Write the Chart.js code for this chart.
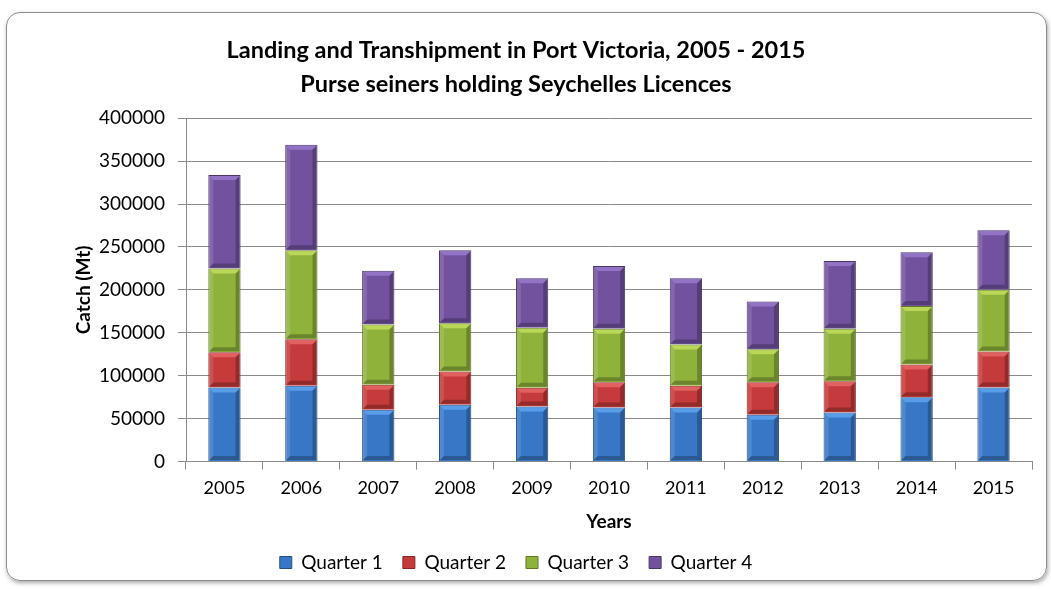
<!DOCTYPE html>
<html>
<head>
<meta charset="utf-8">
<script src="https://cdn.jsdelivr.net/npm/chart.js@4/dist/chart.umd.min.js"></script>
<style>
  body { margin: 0; background: #fff; }
  #frame {
    position: absolute; left: 6px; top: 12px; width: 1039px; height: 567px;
    border: 1px solid #8c8c8c; border-radius: 14px;
    box-shadow: 1px 2px 4px rgba(0,0,0,0.35);
  }
  #chart { position: absolute; left: 0; top: 0; }
</style>
</head>
<body>
<div id="frame"></div>
<canvas id="chart" width="1051" height="589"></canvas>
<script>
const years = ["2005", "2006", "2007", "2008", "2009", "2010", "2011", "2012", "2013", "2014", "2015"];
const quarter1 = [86400, 88400, 60400, 66200, 64300, 63100, 63100, 54600, 57200, 74800, 86400];
const quarter2 = [40900, 54100, 29200, 38600, 21800, 29200, 25300, 37700, 36300, 38200, 41800];
const quarter3 = [97500, 103600, 70100, 56400, 69700, 62400, 47900, 38500, 61200, 68100, 72000];
const quarter4 = [109000, 123000, 62700, 84900, 57600, 73100, 77100, 55800, 78900, 62700, 69300];
const titleLines = ["Landing and Transhipment in Port Victoria, 2005 - 2015", "Purse seiners holding Seychelles Licences"];

const font = "Lato";
const gridColor = "#8a8a8a";
const fills = ["#3877c6", "#c53a3a", "#8fb23b", "#72529f"];
const lights = ["#5fa6f0", "#e86a6a", "#c4e060", "#9a7cd0"];
const borders = ["#244f86", "#862626", "#5f7826", "#4a356a"];

// bevel look of the old Excel bars, drawn on top of each bar element
const bevel = {
  id: "bevel",
  afterDatasetsDraw(ch) {
    const c = ch.ctx;
    ch.data.datasets.forEach((ds, i) => {
      ch.getDatasetMeta(i).data.forEach((bar) => {
        const l = bar.x - bar.width / 2, r = bar.x + bar.width / 2;
        const t = bar.y, b = bar.base, d = 5;
        c.save();
        c.fillStyle = lights[i];
        c.globalAlpha = 0.8;
        c.beginPath();
        c.moveTo(l + 1, t + 1); c.lineTo(r - 1, t + 1); c.lineTo(r - d, t + d); c.lineTo(l + d, t + d);
        c.closePath(); c.fill();
        c.globalAlpha = 0.25;
        c.fillStyle = "#000";
        c.beginPath();
        c.moveTo(r - 1, t + 1); c.lineTo(r - 1, b - 1); c.lineTo(r - d, b - d); c.lineTo(r - d, t + d);
        c.closePath(); c.fill();
        c.beginPath();
        c.moveTo(l + 1, b - 1); c.lineTo(r - 1, b - 1); c.lineTo(r - d, b - d); c.lineTo(l + d, b - d);
        c.closePath(); c.fill();
        c.globalAlpha = 0.12;
        c.fillStyle = "#fff";
        c.beginPath();
        c.moveTo(l + 1, t + 1); c.lineTo(l + d, t + d); c.lineTo(l + d, b - d); c.lineTo(l + 1, b - 1);
        c.closePath(); c.fill();
        c.restore();
      });
    });
  }
};

const makeSet = (label, data, i) => ({
  label: label,
  data: data,
  backgroundColor: fills[i],
  borderColor: borders[i],
  borderWidth: 1,
  barPercentage: 0.42,
  categoryPercentage: 1
});

const chart = new Chart(document.getElementById("chart"), {
  type: "bar",
  data: {
    labels: years,
    datasets: [
      makeSet("Quarter 1", quarter1, 0),
      makeSet("Quarter 2", quarter2, 1),
      makeSet("Quarter 3", quarter3, 2),
      makeSet("Quarter 4", quarter4, 3)
    ]
  },
  plugins: [bevel],
  options: {
    responsive: false,
    animation: false,
    layout: { padding: { left: 0, right: 19, top: 0, bottom: 7 } },
    plugins: {
      title: {
        display: true,
        text: titleLines,
        color: "#000",
        font: { family: font, size: 23.5, weight: "bold", lineHeight: 1.45 },
        padding: { top: 33, bottom: 17 }
      },
      legend: {
        position: "bottom",
        labels: {
          color: "#000",
          font: { family: font, size: 19 },
          boxWidth: 12,
          boxHeight: 12,
          padding: 20
        }
      },
      tooltip: { enabled: false }
    },
    scales: {
      x: {
        stacked: true,
        grid: { display: true, drawOnChartArea: false, offset: true, color: gridColor, tickLength: 8 },
        border: { color: gridColor },
        ticks: { color: "#000", font: { family: font, size: 18 }, padding: 8 },
        title: {
          display: true, text: "Years", color: "#000",
          font: { family: font, size: 19, weight: "bold" },
          padding: { top: 3, bottom: 0 }
        }
      },
      y: {
        stacked: true,
        min: 0,
        max: 400000,
        afterFit: (scale) => { scale.width = 186; },
        grid: { color: gridColor, tickLength: 8 },
        border: { color: gridColor },
        ticks: {
          stepSize: 50000, color: "#000", font: { family: font, size: 19 }, padding: 13,
          callback: (v) => String(v)
        },
        title: {
          display: true, text: "Catch (Mt)", color: "#000",
          font: { family: font, size: 19, weight: "bold" },
          padding: { top: 72, bottom: 0 }
        }
      }
    }
  }
});
</script>
</body>
</html>
